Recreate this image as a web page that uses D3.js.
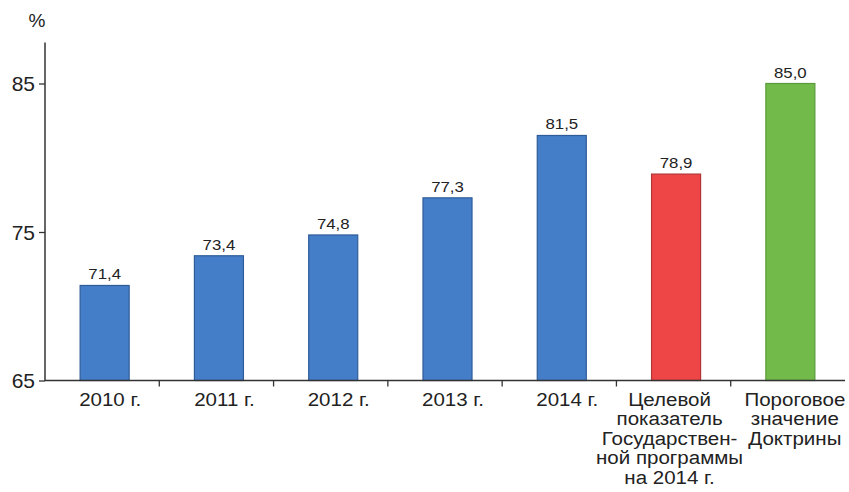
<!DOCTYPE html>
<html><head><meta charset="utf-8">
<script src="https://cdn.jsdelivr.net/npm/d3@7"></script>
<style>body{margin:0;background:#fff;} text{font-family:"Liberation Sans",Arial,sans-serif;fill:#222;}</style>
</head><body>
<svg id="chart" width="849" height="492"></svg>
<script>
const categories = ["2010","2011","2012","2013","2014","target","threshold"];
const categoryLabels = [["2010 г."],["2011 г."],["2012 г."],["2013 г."],["2014 г."],
  ["Целевой","показатель","Государствен-","ной программы","на 2014 г."],
  ["Пороговое","значение","Доктрины"]];
const values = [71.4, 73.4, 74.8, 77.3, 81.5, 78.9, 85.0];
const valueLabels = ["71,4","73,4","74,8","77,3","81,5","78,9","85,0"];
const barKinds = ["fact","fact","fact","fact","fact","target","threshold"];
const yTicks = [65, 75, 85];
const yLabel = "%";

const fills = {fact:"#457ec8", target:"#ee4646", threshold:"#72bb4b"};
const strokes = {fact:"#2f5c98", target:"#b23434", threshold:"#5a9a3a"};

const svg = d3.select("#chart");
const x = d3.scaleBand().domain(categories).range([45, 845]).paddingInner(0.571).paddingOuter(0.2855);
const y = d3.scaleLinear().domain([65, 87.5]).range([380.5, 380.5 - 22.5 * 14.85]);
const shift = 2.5;

// bars
svg.selectAll("rect.bar").data(values).join("rect")
  .attr("class","bar")
  .attr("x",(d,i)=>x(categories[i])+shift)
  .attr("y",d=>y(d))
  .attr("width",x.bandwidth())
  .attr("height",d=>y(65)-y(d))
  .attr("fill",(d,i)=>fills[barKinds[i]])
  .attr("stroke",(d,i)=>strokes[barKinds[i]])
  .attr("stroke-width",1.2);

// value labels
svg.selectAll("text.val").data(values).join("text")
  .attr("class","val")
  .attr("transform",(d,i)=>`translate(${x(categories[i])+shift+x.bandwidth()/2},${y(d)-6}) scale(1.2,1)`)
  .attr("text-anchor","middle")
  .attr("font-size",14)
  .text((d,i)=>valueLabels[i]);

// y axis
const yAxis = d3.axisLeft(y).tickValues(yTicks).tickSize(6).tickPadding(4).tickFormat(d3.format("d"));
const gy = svg.append("g").attr("transform","translate(45,0)").call(yAxis);
gy.select(".domain").attr("stroke","#333").attr("stroke-width",1.5).attr("d","M0,42.5V381");
gy.selectAll(".tick line").attr("stroke","#333").attr("stroke-width",1.3);
gy.selectAll(".tick text").attr("font-size",21).attr("font-family","Liberation Sans, Arial, sans-serif").attr("fill","#222").attr("dy","0.35em");

svg.append("text").attr("x",37).attr("y",27).attr("text-anchor","middle").attr("font-size",19).text(yLabel);

// x axis
svg.append("line").attr("x1",45).attr("x2",845).attr("y1",y(65)).attr("y2",y(65)).attr("stroke","#333").attr("stroke-width",1.5);
const boundaries = categories.slice(1).map(c=>x(c)-x.step()*x.paddingInner()/2);
svg.selectAll("line.xt").data(boundaries).join("line").attr("class","xt")
  .attr("x1",d=>d).attr("x2",d=>d).attr("y1",y(65)).attr("y2",y(65)+6)
  .attr("stroke","#333").attr("stroke-width",1.3);

// category labels
const labelOffsets = [8,8,8,8,8,-4,7];
const cl = svg.selectAll("text.cat").data(categoryLabels).join("text")
  .attr("class","cat")
  .attr("text-anchor","middle")
  .attr("font-size",19)
  .attr("transform",(d,i)=>`translate(${x(categories[i])+x.bandwidth()/2+labelOffsets[i]},406) scale(1.08,1)`);
cl.selectAll("tspan").data(d=>d).join("tspan")
  .attr("x",0).attr("y",(d,j)=>j*19.5).text(d=>d);
</script>
</body></html>
